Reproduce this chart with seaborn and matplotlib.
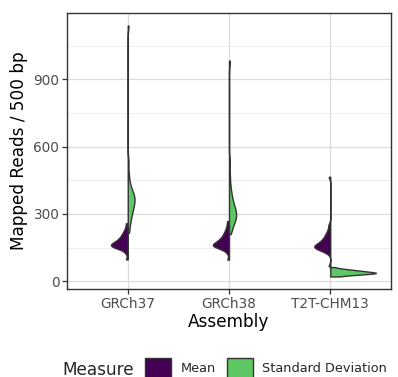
import numpy as np
import pandas as pd
import matplotlib
matplotlib.use("Agg")
import matplotlib.pyplot as plt
import seaborn as sns
from matplotlib.patches import Patch

# ---- data ----
assemblies = ["GRCh37", "GRCh38", "T2T-CHM13"]
measures = ["Mean", "Standard Deviation"]
fill_colors = ["#440154", "#5DC863"]

mean_grch37 = [97, 125, 138, 143, 147, 150, 152, 154, 156, 158, 160, 162, 164,
               166, 168, 170, 173, 176, 179, 182, 186, 190, 194, 199, 205, 211,
               218, 227, 240, 258]
mean_grch38 = [96, 126, 139, 144, 148, 151, 153, 155, 157, 159, 161, 163, 165,
               167, 169, 172, 175, 178, 181, 185, 189, 193, 198, 204, 210, 217,
               225, 236, 250, 268]
mean_t2t = [66, 124, 132, 136, 140, 143, 145, 147, 149, 151, 153, 155, 157,
            159, 161, 163, 166, 169, 172, 175, 179, 183, 187, 192, 198, 204,
            211, 220, 233, 251, 465]

sd_grch37 = [216, 240, 258, 272, 284, 294, 303, 311, 318, 325, 332, 338, 344,
             350, 355, 360, 365, 370, 375, 380, 386, 392, 399, 407, 417, 430,
             450, 480, 530, 1139]
sd_grch38 = [210, 228, 240, 250, 258, 265, 271, 277, 282, 287, 292, 297, 302,
             307, 312, 318, 324, 330, 337, 345, 354, 364, 376, 390, 408, 432,
             470, 530, 983]
sd_t2t = [21, 22.9, 25.0, 26.5, 27.7, 28.7, 29.6, 30.4, 31.2, 32.0, 32.6, 33.3,
          33.9, 34.5, 35.1, 35.6, 36.1, 36.7, 37.2, 37.8, 38.3, 38.9, 39.5,
          40.1, 40.8, 41.4, 42.1, 42.8, 43.5, 44.3, 45.1, 45.9, 46.8, 47.7,
          48.7, 49.7, 50.9, 52.2, 53.7, 55.6, 58.3, 63]

y_ticks = [0, 300, 600, 900]
y_minor = [150, 450, 750, 1050]

series = {
    ("GRCh37", "Mean"): mean_grch37,
    ("GRCh38", "Mean"): mean_grch38,
    ("T2T-CHM13", "Mean"): mean_t2t,
    ("GRCh37", "Standard Deviation"): sd_grch37,
    ("GRCh38", "Standard Deviation"): sd_grch38,
    ("T2T-CHM13", "Standard Deviation"): sd_t2t,
}
rows = []
for (asm, meas), vals in series.items():
    for v in vals:
        rows.append({"Assembly": asm, "Measure": meas, "Value": v})
df = pd.DataFrame(rows)


def nrd0(kde):
    x = np.asarray(kde.dataset).ravel()
    sd = np.std(x, ddof=1)
    q75, q25 = np.percentile(x, [75, 25])
    lo = min(sd, (q75 - q25) / 1.34)
    bw = 0.9 * lo * len(x) ** (-0.2)
    return bw / sd


sns.set_theme(style="white")
plt.rcParams["font.family"] = ["DejaVu Sans"]

W, H = 398, 377
fig = plt.figure(figsize=(W / 100, H / 100), dpi=100)
fig.patch.set_facecolor("white")
left, right, top, bottom = 67, 391, 13, 289
ax = fig.add_axes([left / W, 1 - bottom / H, (right - left) / W, (bottom - top) / H])

sns.violinplot(
    data=df, x="Assembly", y="Value", hue="Measure",
    order=assemblies, hue_order=measures, palette=fill_colors,
    split=True, inner=None, cut=0, saturation=1, width=0.9,
    linewidth=1.0, linecolor="#333333", gridsize=600,
    bw_method=nrd0, bw_adjust=0.7, density_norm="area", common_norm=True,
    legend=False, ax=ax, zorder=3,
)
for coll in ax.collections:
    try:
        coll.set_joinstyle("round")
        coll.set_capstyle("round")
    except Exception:
        pass

vmin = df["Value"].min()
vmax = df["Value"].max()
rng = vmax - vmin
ax.set_ylim(vmin - 0.05 * rng, vmax + 0.05 * rng)
ax.set_xlim(-0.6, 2.6)

ax.set_yticks(y_ticks)
ax.set_yticks(y_minor, minor=True)
ax.grid(True, which="major", color="#dcdcdc", linewidth=0.9, zorder=0)
ax.grid(True, which="minor", axis="y", color="#ebebeb", linewidth=0.6, zorder=0)
ax.set_axisbelow(True)

for s in ax.spines.values():
    s.set_color("#333333")
    s.set_linewidth(1.0)

ax.tick_params(axis="both", which="major", length=3.5, width=0.9, color="#333333",
               labelsize=9.8, labelcolor="#4d4d4d", pad=2, left=True, bottom=True)
ax.tick_params(axis="both", which="minor", length=0)

ax.set_xlabel("Assembly", fontsize=12.2, color="black", labelpad=2)
ax.set_ylabel("Mapped Reads / 500 bp", fontsize=12.2, color="black", labelpad=4)

# legend at the bottom with the title on the left
fig.text(62 / W, 1 - 375 / H, "Measure", fontsize=12.2, ha="left", va="baseline")
handles = [Patch(facecolor=c, edgecolor="#333333", linewidth=1.0) for c in fill_colors]
fig.legend(handles, measures, loc="center left",
           bbox_to_anchor=(145 / W, 1 - 368 / H), ncol=2, frameon=False,
           fontsize=9.3, handlelength=2.0, handleheight=2.0,
           handletextpad=0.75, columnspacing=0.85, borderpad=0, borderaxespad=0)

fig.savefig("out.png", dpi=100, facecolor="white")
